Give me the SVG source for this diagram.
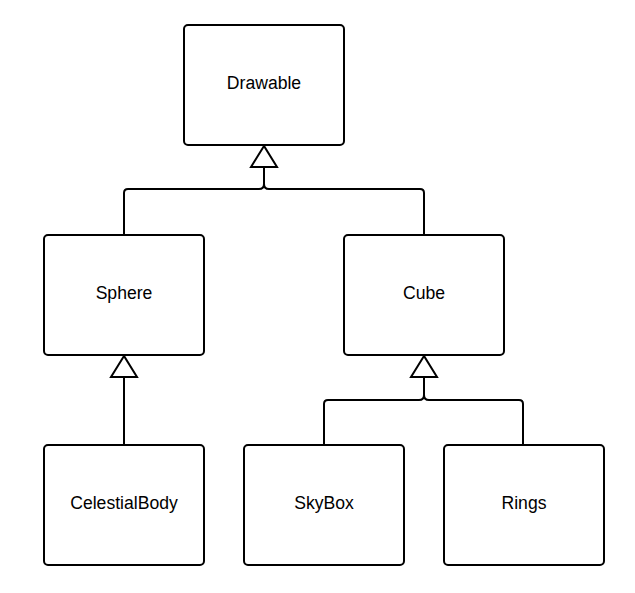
<svg xmlns="http://www.w3.org/2000/svg" width="635" height="593" viewBox="0 0 635 593">
<style>
.box{fill:#fff;stroke:#000;stroke-width:2}
.lbl{font-family:"Liberation Sans",Arial,sans-serif;font-size:17.6px;fill:#000;text-anchor:middle}
.c{fill:none;stroke:#000;stroke-width:2}
.tri{fill:#fff;stroke:#000;stroke-width:2;stroke-linejoin:miter}
</style>
<rect width="635" height="593" fill="#fff"/>
<g id="connectors">
<path class="c" d="M264 166 V184 Q264 189 259 189 H128 Q124 189 124 193 V235"/>
<path class="c" d="M264 166 V184 Q264 189 269 189 H420 Q424 189 424 193 V235"/>
<polygon class="tri" points="264,146 251,167 277,167"/>
<path class="c" d="M124 377 V445"/>
<polygon class="tri" points="124,356 111,377 137,377"/>
<path class="c" d="M424 377 V395 Q424 400 419 400 H328 Q324 400 324 404 V445"/>
<path class="c" d="M424 377 V395 Q424 400 429 400 H519 Q523 400 523 404 V445"/>
<polygon class="tri" points="424,356 411,377 437,377"/>
</g>
<g id="drawable"><rect class="box" x="184" y="25" width="160" height="120" rx="4"/><text class="lbl" x="264" y="88.5">Drawable</text></g>
<g id="sphere"><rect class="box" x="44" y="235" width="160" height="120" rx="4"/><text class="lbl" x="124" y="299">Sphere</text></g>
<g id="cube"><rect class="box" x="344" y="235" width="160" height="120" rx="4"/><text class="lbl" x="424" y="299">Cube</text></g>
<g id="celestialbody"><rect class="box" x="44" y="445" width="160" height="120" rx="4"/><text class="lbl" x="124" y="509">CelestialBody</text></g>
<g id="skybox"><rect class="box" x="244" y="445" width="160" height="120" rx="4"/><text class="lbl" x="324" y="509">SkyBox</text></g>
<g id="rings"><rect class="box" x="444" y="445" width="160" height="120" rx="4"/><text class="lbl" x="524" y="509">Rings</text></g>
</svg>
